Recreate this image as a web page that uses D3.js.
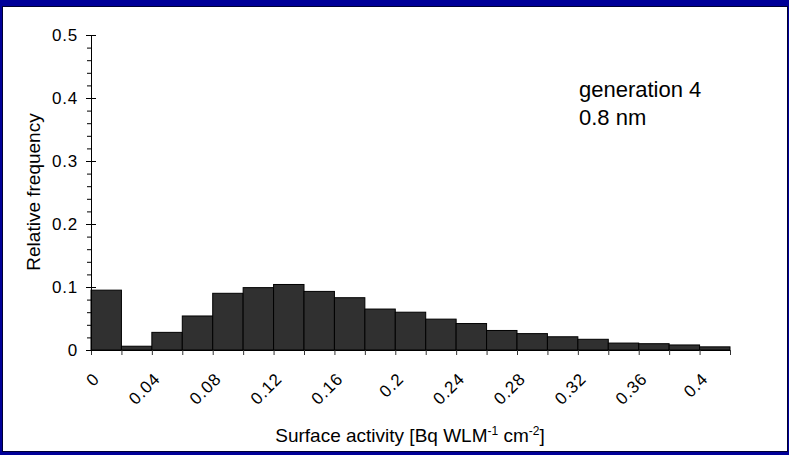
<!DOCTYPE html>
<html>
<head>
<meta charset="utf-8">
<script src="https://cdn.jsdelivr.net/npm/d3@7"></script>
<style>
body { margin: 0; background: #000099; }
svg { display: block; }
text { font-family: Arial, "Liberation Sans", sans-serif; fill: #000; }
</style>
</head>
<body>
<div id="chart-area"></div>
<script>
// SVG Size
var width = 789,
	height = 455;

// histogram bins (lower edge) and relative frequency
var binStarts = [0, 0.02, 0.04, 0.06, 0.08, 0.10, 0.12, 0.14, 0.16, 0.18, 0.20,
	0.22, 0.24, 0.26, 0.28, 0.30, 0.32, 0.34, 0.36, 0.38, 0.40];
var frequency = [0.095, 0.006, 0.028, 0.054, 0.090, 0.099, 0.104, 0.093, 0.083, 0.065, 0.060,
	0.049, 0.042, 0.031, 0.026, 0.021, 0.017, 0.011, 0.010, 0.008, 0.005];
var binWidth = 0.02;

var xTickLabels = [0, 0.04, 0.08, 0.12, 0.16, 0.2, 0.24, 0.28, 0.32, 0.36, 0.4];
var yTickLabels = [0, 0.1, 0.2, 0.3, 0.4, 0.5];
var annotation = ["generation 4", "0.8 nm"];

var data = binStarts.map(function(d, i) {
	return { start: d, end: d + binWidth, value: frequency[i] };
});

let svg = d3.select("#chart-area")
	.append("svg")
	.attr("width", width)
	.attr("height", height);

// white panel on the blue slide
svg.append("rect")
	.attr("x", 2.5)
	.attr("y", 6.5)
	.attr("width", 785)
	.attr("height", 445)
	.attr("fill", "#fff")
	.attr("stroke", "#000033");

let xScale = d3.scaleLinear()
	.domain([0, binStarts[binStarts.length - 1] + binWidth])
	.range([91, 730]);

let yScale = d3.scaleLinear()
	.domain([0, 0.5])
	.range([350, 35]);

svg.selectAll("rect.bar")
	.data(data)
	.enter()
	.append("rect")
	.attr("class", "bar")
	.attr("x", function(d) { return xScale(d.start); })
	.attr("y", function(d) { return yScale(d.value); })
	.attr("width", function(d) { return xScale(d.end) - xScale(d.start); })
	.attr("height", function(d) { return yScale(0) - yScale(d.value); })
	.attr("fill", "#303030")
	.attr("stroke", "#000")
	.attr("stroke-width", 1);

// x axis: a tick at every bin edge, a label at every other one
var xTicks = binStarts.concat([binStarts[binStarts.length - 1] + binWidth]);
let xAxis = d3.axisBottom(xScale)
	.tickValues(xTicks)
	.tickSize(5)
	.tickSizeOuter(0)
	.tickFormat(function(d) {
		var lab = xTickLabels.find(function(l) { return Math.abs(l - d) < 1e-9; });
		return lab === undefined ? "" : String(lab);
	});

let gx = svg.append("g")
	.attr("transform", "translate(0,350)")
	.call(xAxis);
gx.attr("font-size", null).attr("font-family", null);
gx.select(".domain").attr("stroke", "#000");
gx.selectAll(".tick line").attr("stroke", "#333");
gx.selectAll(".tick text")
	.attr("x", 0)
	.attr("y", 0)
	.attr("dy", 0)
	.attr("text-anchor", "end")
	.attr("transform", "translate(9,30) rotate(-45)")
	.style("font-size", "17px")
	.style("letter-spacing", "0.8px");

// y axis: major ticks cross the axis, minor ticks on the left
let yMinor = d3.range(0, 0.5001, 0.02).filter(function(v) {
	return !yTickLabels.some(function(l) { return Math.abs(l - v) < 1e-9; });
});
svg.append("g")
	.attr("transform", "translate(91,0)")
	.call(d3.axisLeft(yScale).tickValues(yMinor).tickSize(4).tickSizeOuter(0).tickFormat(""))
	.call(function(g) { g.select(".domain").remove(); });

let gy = svg.append("g")
	.attr("transform", "translate(91,0)")
	.call(d3.axisLeft(yScale).tickValues(yTickLabels).tickSize(5).tickSizeOuter(0)
		.tickFormat(function(d) { return String(d); }));
gy.attr("font-size", null).attr("font-family", null);
gy.select(".domain").attr("stroke", "#000");
gy.selectAll(".tick line").attr("x1", 5);
gy.selectAll(".tick text")
	.attr("x", -13)
	.style("font-size", "17px")
	.style("letter-spacing", "0.8px");

// axis titles
svg.append("text")
	.text("Relative frequency")
	.attr("transform", "translate(40,192) rotate(-90)")
	.attr("text-anchor", "middle")
	.style("font-size", "19px");

let xt = svg.append("text")
	.attr("x", 410)
	.attr("y", 442)
	.attr("text-anchor", "middle")
	.style("font-size", "19px");
xt.append("tspan").text("Surface activity [Bq WLM");
xt.append("tspan").text("-1").attr("dy", -7).style("font-size", "12px");
xt.append("tspan").text(" cm").attr("dy", 7);
xt.append("tspan").text("-2").attr("dy", -7).style("font-size", "12px");
xt.append("tspan").text("]").attr("dy", 7);

// annotation
svg.selectAll("text.note")
	.data(annotation)
	.enter()
	.append("text")
	.attr("class", "note")
	.attr("x", 579)
	.attr("y", function(d, i) { return 97 + i * 28; })
	.text(function(d) { return d; })
	.style("font-size", "22px");
</script>
</body>
</html>
